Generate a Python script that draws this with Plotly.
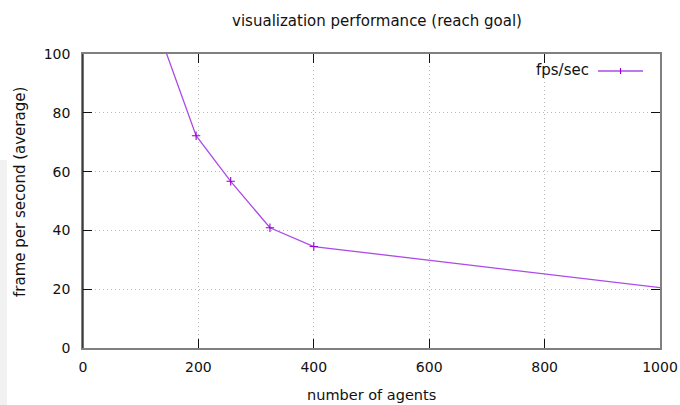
import plotly.graph_objects as go

# Data
agents = [121, 196, 256, 324, 400, 1024]
fps = [113.1, 72.2, 56.7, 40.9, 34.5, 20.0]
x_ticks = [0, 200, 400, 600, 800, 1000]
y_ticks = [0, 20, 40, 60, 80, 100]

FONT = "DejaVu Sans"
W, H = 680, 405
L, R, T, B = 83, 20, 54, 57
PW, PH = W - L - R, H - T - B


def px(xp):
    return (xp - L) / PW


def py(yp):
    return (H - B - yp) / PH


fig = go.Figure()
fig.add_trace(go.Scatter(
    x=agents, y=fps, mode="lines+markers", name="fps/sec",
    line=dict(color="#ac4ae8", width=1.3),
    marker=dict(symbol="cross-thin", size=6, line=dict(color="#9400d3", width=1.1)),
    showlegend=False, cliponaxis=True,
))

axis_common = dict(
    showline=True, linecolor="#808080", linewidth=1.5, mirror="ticks",
    ticks="inside", ticklen=9, tickcolor="#111111", tickwidth=1,
    showgrid=True, gridcolor="#b8b8b8", gridwidth=1, griddash="1px,3px",
    zeroline=False, tickfont=dict(family=FONT, size=14, color="#111111"),
    automargin=False,
)

fig.update_xaxes(range=[0, 1000], tickvals=x_ticks, ticktext=[str(v) for v in x_ticks],
                 ticklabelstandoff=5, **axis_common)
fig.update_yaxes(range=[0, 100], tickvals=y_ticks, ticktext=[str(v) for v in y_ticks],
                 ticklabelstandoff=8, **axis_common)

shapes = [
    # left border darker
    dict(type="line", xref="paper", yref="paper", x0=0, x1=0, y0=0, y1=1,
         line=dict(color="#111111", width=1.2), layer="above"),
    # legend sample line
    dict(type="line", xref="paper", yref="paper", x0=px(598), x1=px(643), y0=py(71), y1=py(71),
         line=dict(color="#ac4ae8", width=1.3)),
    dict(type="line", xref="paper", yref="paper", x0=px(620.5), x1=px(620.5), y0=py(68), y1=py(74),
         line=dict(color="#9400d3", width=1.1)),
    # faint page edge strip at left
    dict(type="rect", xref="paper", yref="paper", x0=px(0), x1=px(7), y0=py(405), y1=py(160),
         line=dict(width=0), fillcolor="#f1f1f1", layer="below"),
]

annotations = [
    dict(text="fps/sec", xref="paper", yref="paper", x=px(591), y=py(70), xanchor="right",
         yanchor="middle", showarrow=False, font=dict(family=FONT, size=15, color="#111111")),
    dict(text="number of agents", xref="paper", yref="paper", x=px(371), y=py(395),
         xanchor="center", yanchor="middle", showarrow=False,
         font=dict(family=FONT, size=14.5, color="#111111")),
    dict(text="frame per second (average)", xref="paper", yref="paper", x=px(20), y=py(192),
         xanchor="center", yanchor="middle", textangle=-90, showarrow=False,
         font=dict(family=FONT, size=15, color="#111111")),
]

fig.update_layout(
    width=W, height=H,
    margin=dict(l=L, r=R, t=T, b=B),
    paper_bgcolor="white", plot_bgcolor="white",
    title=dict(text="visualization performance (reach goal)", xref="container", x=377 / W,
               y=1 - 21 / H, xanchor="center", yanchor="middle",
               font=dict(family=FONT, size=15, color="#111111")),
    shapes=shapes, annotations=annotations,
    showlegend=False,
)

fig.write_html("out.html", config={"displayModeBar": False},
               post_script="document.body.style.margin='0px';document.body.style.padding='0px';")
